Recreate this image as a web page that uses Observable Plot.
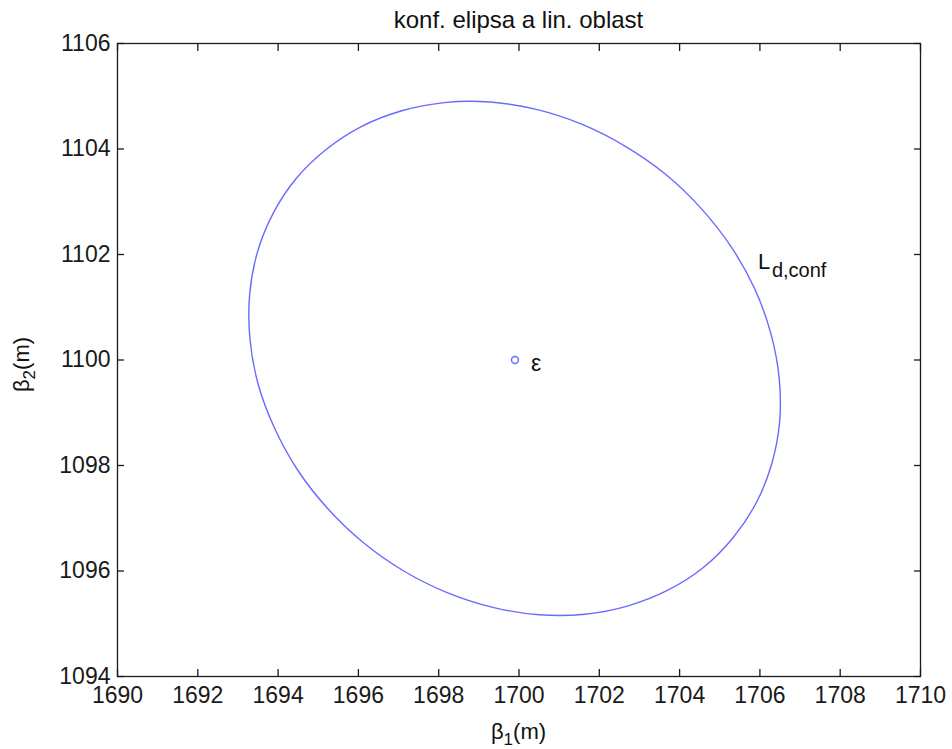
<!DOCTYPE html>
<html><head><meta charset="utf-8">
<script src="https://cdn.jsdelivr.net/npm/d3@7"></script>
<script src="https://cdn.jsdelivr.net/npm/@observablehq/plot@0.6"></script>
<style>
html,body{margin:0;padding:0;background:#fff;}
#chart{width:952px;height:749px;position:relative;}
</style>
</head><body><div id="chart"></div>
<script>
// Confidence ellipse outline
const ellipseB1 = [1705.33,1704.60,1703.72,1702.72,1701.64,1700.50,1699.35,1698.21,1697.13,1696.12,1695.24,1694.49,1693.91,1693.50,1693.30,1693.29,1693.48,1693.87,1694.44,1695.18,1696.06,1697.06,1698.14,1699.27,1700.43,1701.56,1702.65,1703.65,1704.54,1705.29,1705.87,1706.27,1706.48,1706.49,1706.29,1705.90];
const ellipseB2 = [1096.63,1096.07,1095.64,1095.34,1095.18,1095.17,1095.31,1095.59,1096.00,1096.54,1097.18,1097.91,1098.71,1099.55,1100.39,1101.23,1102.03,1102.77,1103.43,1103.98,1104.42,1104.72,1104.88,1104.89,1104.75,1104.47,1104.05,1103.52,1102.87,1102.14,1101.35,1100.51,1099.66,1098.82,1098.02,1097.28];
// Estimate point
const estimateB1 = [1699.9];
const estimateB2 = [1100.0];
// Tick values
const xTicks = [1690,1692,1694,1696,1698,1700,1702,1704,1706,1708,1710];
const yTicks = [1094,1096,1098,1100,1102,1104,1106];
// Texts
const titleText = "konf. elipsa a lin. oblast";
const xLabelMain = "β", xLabelSub = "1", xLabelTail = "(m)";
const yLabelMain = "β", yLabelSub = "2", yLabelTail = "(m)";
const epsLabel = ["ε"];
const epsLabelB1 = [1700.3], epsLabelB2 = [1099.93];
const confLabelMain = ["L"], confLabelSub = ["d,conf"];
const confLabelB1 = [1705.95], confLabelB2 = [1101.72];

const FONT = "'Liberation Sans', Arial, Helvetica, sans-serif";
const ellipse = ellipseB1.map((b1, i) => ({b1, b2: ellipseB2[i]}));
const est = estimateB1.map((b1, i) => ({b1, b2: estimateB2[i]}));
const eps = epsLabel.map((t, i) => ({t, b1: epsLabelB1[i], b2: epsLabelB2[i]}));
const conf = confLabelMain.map((t, i) => ({t, s: confLabelSub[i], b1: confLabelB1[i], b2: confLabelB2[i]}));

const W = 952, H = 749, ML = 117, MR = 32, MT = 43, MB = 73;
const fmt = d => String(d);
const LINE = "#6a6aff";

const plot = Plot.plot({
  width: W, height: H,
  marginLeft: ML, marginRight: MR, marginTop: MT, marginBottom: MB,
  style: {fontSize: "23px", fontFamily: FONT, background: "#fff", color: "#1a1a1a"},
  x: {domain: [1690, 1710]},
  y: {domain: [1094, 1106]},
  marks: [
    Plot.frame({stroke: "#1a1a1a", strokeWidth: 1.3}),
    Plot.axisX({anchor: "bottom", ticks: xTicks, tickSize: -7, tickPadding: 17, tickFormat: fmt, label: null, stroke: "#1a1a1a", strokeWidth: 1.3, fill: "#1a1a1a"}),
    Plot.axisX({anchor: "top", ticks: xTicks, tickSize: -7, tickFormat: () => "", label: null, stroke: "#1a1a1a", strokeWidth: 1.3}),
    Plot.axisY({anchor: "left", ticks: yTicks, tickSize: -7, tickPadding: 14, tickFormat: fmt, label: null, stroke: "#1a1a1a", strokeWidth: 1.3, fill: "#1a1a1a"}),
    Plot.axisY({anchor: "right", ticks: yTicks, tickSize: -7, tickFormat: () => "", label: null, stroke: "#1a1a1a", strokeWidth: 1.3}),
    Plot.line(ellipse, {x: "b1", y: "b2", curve: "catmull-rom-closed", stroke: LINE, strokeWidth: 1.4}),
    Plot.dot(est, {x: "b1", y: "b2", r: 3.5, stroke: LINE, strokeWidth: 1.4, fill: "none"}),
    Plot.text(eps, {x: "b1", y: "b2", text: "t", textAnchor: "start", fontSize: 23, fill: "#111"}),
    Plot.text(conf, {x: "b1", y: "b2", text: "t", textAnchor: "start", lineAnchor: "bottom", fontSize: 22, fill: "#111"}),
    Plot.text(conf, {x: "b1", y: "b2", text: "s", textAnchor: "start", lineAnchor: "bottom", dx: 14, dy: 8, fontSize: 20, fill: "#111"})
  ]
});

const svg = d3.select(plot);
const cx = ML + (W - ML - MR) / 2;
// title
svg.append("text").attr("x", cx).attr("y", 28).attr("text-anchor", "middle")
  .attr("font-size", 24).attr("font-family", FONT).attr("fill", "#111").text(titleText);
// x label
const xl = svg.append("text").attr("x", cx).attr("y", 739).attr("text-anchor", "middle")
  .attr("font-size", 22).attr("font-family", FONT).attr("fill", "#111");
xl.append("tspan").text(xLabelMain);
xl.append("tspan").attr("dy", 6).attr("font-size", 17).text(xLabelSub);
xl.append("tspan").attr("dy", -6).text(xLabelTail);
// y label
const cy = MT + (H - MT - MB) / 2 + 5;
const yl = svg.append("text").attr("transform", `translate(29,${cy}) rotate(-90)`).attr("text-anchor", "middle")
  .attr("font-size", 22).attr("font-family", FONT).attr("fill", "#111");
yl.append("tspan").text(yLabelMain);
yl.append("tspan").attr("dy", 6).attr("font-size", 17).text(yLabelSub);
yl.append("tspan").attr("dy", -6).text(yLabelTail);

document.getElementById("chart").appendChild(plot);
</script>
</body></html>
